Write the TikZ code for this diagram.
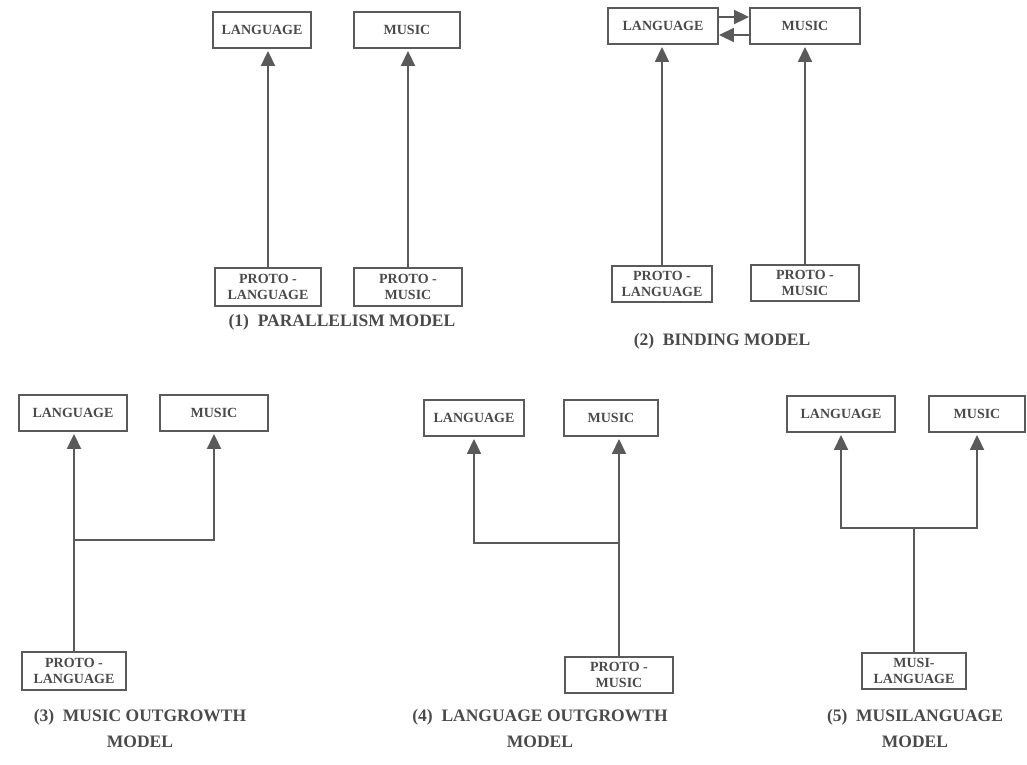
\documentclass[tikz,border=0pt]{standalone}
\usepackage{fontspec}
\setmainfont{Liberation Serif}
\usepackage{xcolor}
\usepackage{tikz}
\usetikzlibrary{arrows.meta}
\definecolor{ink}{HTML}{4A4A4A}
\definecolor{wire}{HTML}{5A5A5A}
\tikzset{box/.style={draw=wire,line width=1.9pt,minimum height=36pt,inner sep=1pt,align=center,text=ink,font=\fontsize{14}{16.5}\selectfont\bfseries},
	model label/.style={text=ink,align=center,font=\fontsize{17.5}{26}\selectfont\bfseries},
	link/.style={draw=wire,line width=1.9pt},
	up arrow/.style={link,-{Triangle[width=14pt,length=15pt]},shorten >=2pt}}

\begin{document}
\begin{tikzpicture}[x=1pt,y=-1pt]
			\useasboundingbox (0,0) rectangle (1027,764);
			% (1) parallelism
			\node[box,minimum width=98pt] (lang1) at (262,30) {LANGUAGE};
			\node[box,minimum width=106pt] (mus1) at (407,30) {MUSIC};
			\node[box,minimum width=106pt,minimum height=38pt] (plang1) at (268,287) {PROTO -\\LANGUAGE};
			\node[box,minimum width=108pt,minimum height=38pt] (pmus1) at (408,287) {PROTO -\\MUSIC};
			\draw[up arrow] (plang1.north) -- (plang1.north |- lang1.south);
			\draw[up arrow] (pmus1.north) -- (pmus1.north |- mus1.south);
			\node[model label] (cap1) at (342,322) {(1)\ \ PARALLELISM MODEL};
			% (2) binding
			\node[box,minimum width=110pt] (lang2) at (663,26) {LANGUAGE};
			\node[box,minimum width=110pt] (mus2) at (805,26) {MUSIC};
			\node[box,minimum width=100pt] (plang2) at (662,284) {PROTO -\\LANGUAGE};
			\node[box,minimum width=108pt] (pmus2) at (805,283) {PROTO -\\MUSIC};
			\draw[up arrow,shorten >=0pt] ([yshift=9pt]lang2.east) -- ([yshift=9pt]mus2.west);
			\draw[up arrow,shorten >=0pt] ([yshift=-9pt]mus2.west) -- ([yshift=-9pt]lang2.east);
			\draw[up arrow] (plang2.north) -- (plang2.north |- lang2.south);
			\draw[up arrow] (pmus2.north) -- (pmus2.north |- mus2.south);
			\node[model label] (cap2) at (722,341) {(2)\ \ BINDING MODEL};
			% (3) music outgrowth
			\node[box,minimum width=108pt] (lang3) at (73,413) {LANGUAGE};
			\node[box,minimum width=108pt] (mus3) at (214,413) {MUSIC};
			\node[box,minimum width=104pt,minimum height=38pt] (plang3) at (74,671) {PROTO -\\LANGUAGE};
			\coordinate (j3) at (74,540);
			\draw[up arrow] (plang3.north) -- (plang3.north |- lang3.south);
			\draw[up arrow] (j3) -| (mus3);
			\node[model label] (cap3) at (140,728) {(3)\ \ MUSIC OUTGROWTH\\MODEL};
			% (4) language outgrowth
			\node[box,minimum width=100pt,minimum height=36pt] (lang4) at (474,418) {LANGUAGE};
			\node[box,minimum width=94pt] (mus4) at (611,418) {MUSIC};
			\node[box,minimum width=108pt,minimum height=36pt] (pmus4) at (619,675) {PROTO -\\MUSIC};
			\coordinate (j4) at (619,543);
			\draw[up arrow] (pmus4.north) -- (pmus4.north |- mus4.south);
			\draw[up arrow] (j4) -| (lang4);
			\node[model label] (cap4) at (540,728) {(4)\ \ LANGUAGE OUTGROWTH\\MODEL};
			% (5) musilanguage
			\node[box,minimum width=108pt] (lang5) at (841,414) {LANGUAGE};
			\node[box,minimum width=96pt] (mus5) at (977,414) {MUSIC};
			\node[box,minimum width=104pt] (mlang5) at (914,671) {MUSI-\\LANGUAGE};
			\coordinate (j5) at (914,528);
			\draw[link] (mlang5) -- (j5);
			\draw[up arrow] (j5) -| (lang5);
			\draw[up arrow] (j5) -| (mus5);
			\node[model label] (cap5) at (915,728) {(5)\ \ MUSILANGUAGE\\MODEL};
		\end{tikzpicture}
\end{document}
